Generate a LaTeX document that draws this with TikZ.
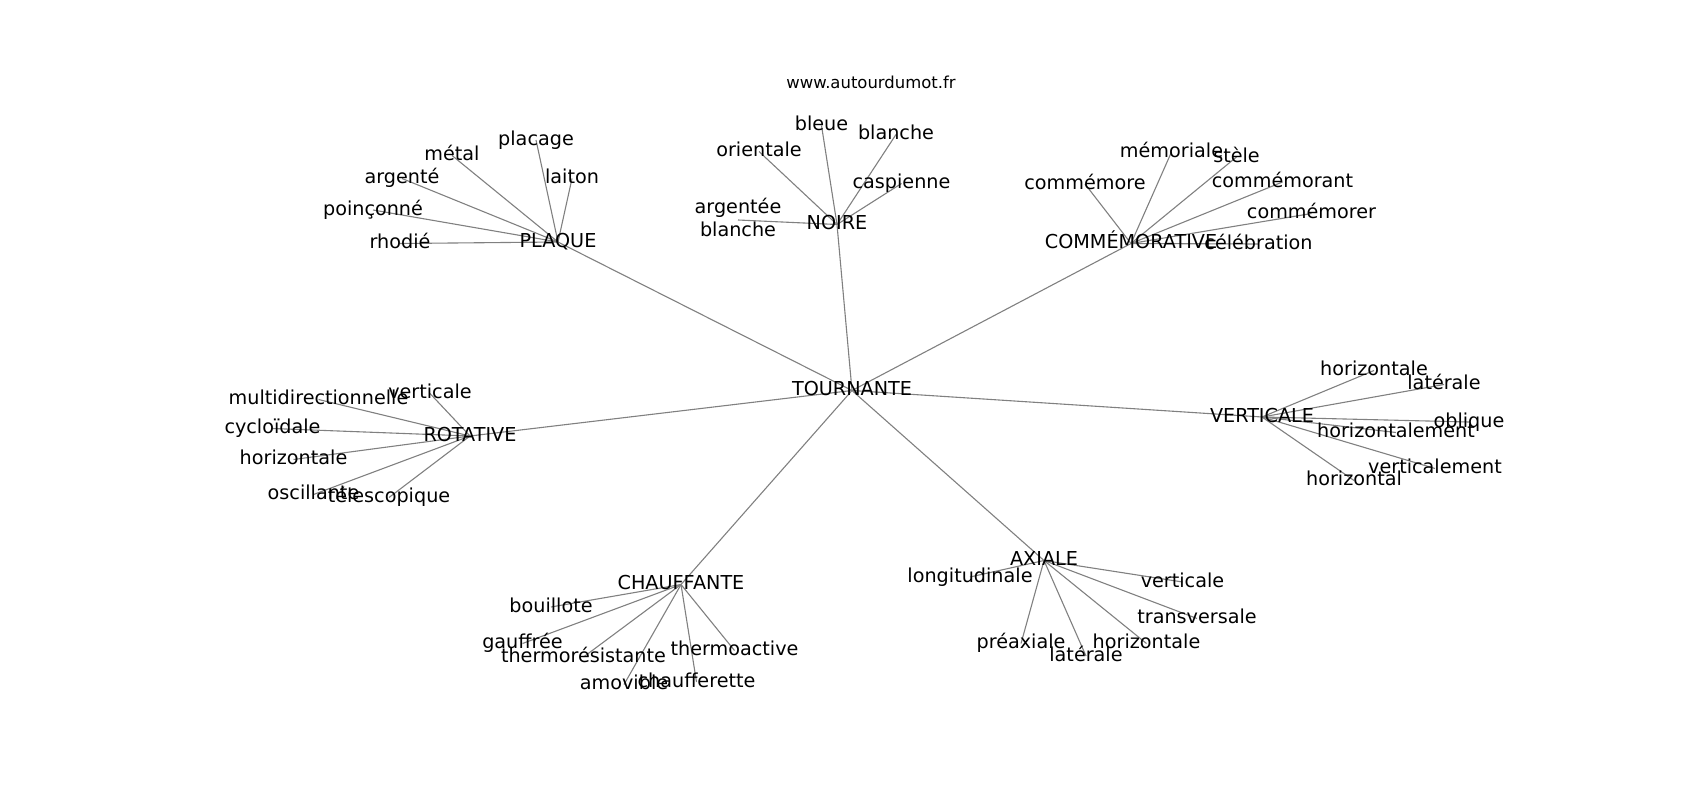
\documentclass[tikz,border=0pt]{standalone}
\usepackage{fontspec}
\setmainfont{DejaVu Sans}
\usetikzlibrary{backgrounds}
\begin{document}
\begin{tikzpicture}[x=1pt,y=-1pt,
  lbl/.style={font=\fontsize{19.2}{23}\selectfont, inner sep=0pt, text height=14.6pt, text depth=4.53pt},
  lbl2/.style={font=\fontsize{19.2}{23}\selectfont, inner sep=0pt, align=center},
  ttl/.style={font=\fontsize{16.46}{20}\selectfont, inner sep=0pt, anchor=base},
  edge/.style={draw=gray, line width=1.1pt}]
\useasboundingbox (0,0) rectangle (1700,800);
\node[ttl] (title) at (871,88.5) {www.autourdumot.fr};
% hub and main nodes
\node[lbl] (t) at (852,390.5) {TOURNANTE};
\node[lbl] (pl) at (558,242) {PLAQUE};
\node[lbl] (no) at (837,224.5) {NOIRE};
\node[lbl] (co) at (1131,243.5) {COMMÉMORATIVE};
\node[lbl] (ro) at (470,436) {ROTATIVE};
\node[lbl] (ve) at (1262,417) {VERTICALE};
\node[lbl] (ch) at (681,584.5) {CHAUFFANTE};
\node[lbl] (ax) at (1044,560.5) {AXIALE};
% PLAQUE leaves
\node[lbl] (placage) at (536,140) {placage};
\node[lbl] (metal) at (452,155.5) {métal};
\node[lbl] (laiton) at (572,178.5) {laiton};
\node[lbl] (argente) at (402,178.5) {argenté};
\node[lbl] (poinconne) at (373,210) {poinçonné};
\node[lbl] (rhodie) at (400,243.5) {rhodié};
% NOIRE leaves
\node[lbl] (bleue) at (821.5,125.5) {bleue};
\node[lbl] (orientale) at (759,151.5) {orientale};
\node[lbl] (blancheN) at (896,134.5) {blanche};
\node[lbl] (caspienne) at (901.5,183.5) {caspienne};
\node[lbl2] (argbl) at (738,220) {\rule{0pt}{14.6pt}argentée\\blanche\rule[-4.53pt]{0pt}{0pt}};
% COMMEMORATIVE leaves
\node[lbl] (memoriale) at (1171.5,152) {mémoriale};
\node[lbl] (stele) at (1236.5,157) {stèle};
\node[lbl] (commemore) at (1085,184) {commémore};
\node[lbl] (commemorant) at (1282.5,182) {commémorant};
\node[lbl] (commemorer) at (1311.5,213.5) {commémorer};
\node[lbl] (celebration) at (1258.5,244) {célébration};
% ROTATIVE leaves
\node[lbl] (verticaleR) at (430,393.5) {verticale};
\node[lbl] (multi) at (318.5,399.5) {multidirectionnelle};
\node[lbl] (cyclo) at (272.5,428.5) {cycloïdale};
\node[lbl] (horizR) at (293.5,459.5) {horizontale};
\node[lbl] (oscill) at (313.5,494.5) {oscillante};
\node[lbl] (telesc) at (389,497.5) {télescopique};
% VERTICALE leaves
\node[lbl] (horizV) at (1374,370.5) {horizontale};
\node[lbl] (lateraleV) at (1444,384.5) {latérale};
\node[lbl] (oblique) at (1469,422) {oblique};
\node[lbl] (horizment) at (1396,432.5) {horizontalement};
\node[lbl] (verticalement) at (1435,468.5) {verticalement};
\node[lbl] (horizontal) at (1354,480.5) {horizontal};
% CHAUFFANTE leaves
\node[lbl] (bouillote) at (551,607) {bouillote};
\node[lbl] (gauffree) at (522.5,643.5) {gauffrée};
\node[lbl] (thermores) at (583.5,657) {thermorésistante};
\node[lbl] (thermoact) at (734.5,650.5) {thermoactive};
\node[lbl] (amovible) at (624,684.5) {amovible};
\node[lbl] (chaufferette) at (696.5,682) {chaufferette};
% AXIALE leaves
\node[lbl] (longit) at (970,577) {longitudinale};
\node[lbl] (verticaleA) at (1182.5,582) {verticale};
\node[lbl] (transv) at (1197,618.5) {transversale};
\node[lbl] (horizA) at (1146.5,643.5) {horizontale};
\node[lbl] (lateraleA) at (1086,656) {latérale};
\node[lbl] (preax) at (1021,643.5) {préaxiale};
\begin{scope}[on background layer]
\foreach \h in {pl,no,co,ro,ve,ch,ax} \draw[edge] (t.center) -- (\h.center);
\foreach \l in {placage,metal,laiton,argente,poinconne,rhodie} \draw[edge] (pl.center) -- (\l.center);
\foreach \l in {bleue,orientale,blancheN,caspienne,argbl} \draw[edge] (no.center) -- (\l.center);
\foreach \l in {memoriale,stele,commemore,commemorant,commemorer,celebration} \draw[edge] (co.center) -- (\l.center);
\foreach \l in {verticaleR,multi,cyclo,horizR,oscill,telesc} \draw[edge] (ro.center) -- (\l.center);
\foreach \l in {horizV,lateraleV,oblique,horizment,verticalement,horizontal} \draw[edge] (ve.center) -- (\l.center);
\foreach \l in {bouillote,gauffree,thermores,thermoact,amovible,chaufferette} \draw[edge] (ch.center) -- (\l.center);
\foreach \l in {longit,verticaleA,transv,horizA,lateraleA,preax} \draw[edge] (ax.center) -- (\l.center);
\end{scope}
\end{tikzpicture}
\end{document}
